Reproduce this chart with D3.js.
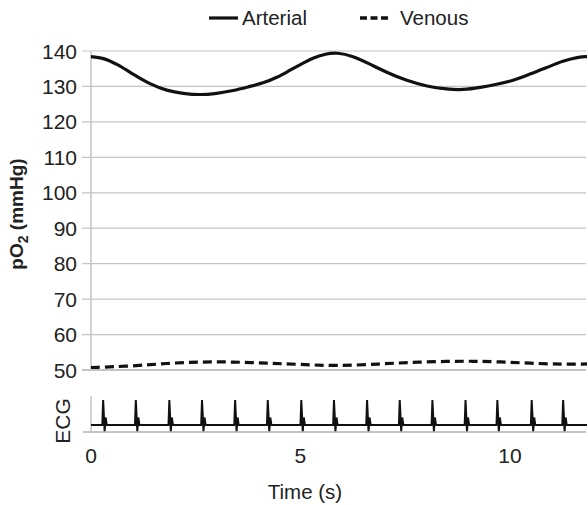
<!DOCTYPE html>
<html><head><meta charset="utf-8">
<script src="https://cdn.jsdelivr.net/npm/d3@7"></script>
<style>body{margin:0;background:#fff}svg{display:block;font-family:"Liberation Sans",Arial,sans-serif}</style>
</head><body><svg id="c" width="588" height="505"></svg>
<script>
// Data
const arterialTime = [0,0.29,0.62,1.0,1.41,1.81,2.2,2.6,3.0,3.39,3.79,4.1,4.44,4.75,5.0,5.3,5.6,5.87,6.25,6.66,7.06,7.54,8.02,8.5,8.88,9.29,9.69,10.07,10.48,10.88,11.26,11.67,11.84];
const arterialPO2  = [138.4,138.1,136.3,133.5,130.6,128.8,128.0,127.6,128.0,128.8,130.0,130.9,132.5,134.6,136.2,138.1,139.2,139.6,138.6,136.3,133.9,131.6,130.0,129.2,129.0,129.7,130.6,131.6,133.5,135.3,137.2,138.4,138.4];
const venousTime = [0,1.0,1.81,2.6,3.39,4.2,4.99,5.87,6.9,7.68,8.5,9.12,9.76,10.48,11.26,11.84];
const venousPO2  = [50.7,51.1,51.9,52.3,52.3,51.9,51.6,51.1,51.7,52.2,52.45,52.5,52.3,51.9,51.6,51.7];
const ecgBeatTimes = [0.29,1.07,1.87,2.65,3.44,4.22,5.02,5.80,6.59,7.37,8.15,8.94,9.70,10.52,11.27];
const beatOffsets = [-0.02,0,0.035,0.06,0.085,0.11];
const beatAmps    = [0,1,-0.25,0.3,0,0];
const yTicks = [50,60,70,80,90,100,110,120,130,140];
const xTicks = [0,5,10];
const legendLabels = ["Arterial","Venous"];

const svg = d3.select("#c");
const x = d3.scaleLinear().domain([0,11.84]).range([91,587]);
const y = d3.scaleLinear().domain([50,140]).range([370,51]);
const ye = d3.scaleLinear().domain([0,1]).range([425,400]);
const grid = "#c4c4c4", txt = "#222";

// gridlines
svg.append("g").selectAll("line").data(yTicks).join("line")
  .attr("x1",82).attr("x2",586).attr("y1",d=>y(d)).attr("y2",d=>y(d))
  .attr("stroke",grid).attr("stroke-width",d=>d===50?2.2:1.2);
// y axis line
svg.append("line").attr("x1",91).attr("x2",91).attr("y1",y(140)).attr("y2",y(50)).attr("stroke",grid).attr("stroke-width",1.5);
// y tick labels
svg.append("g").selectAll("text").data(yTicks).join("text")
  .attr("x",77).attr("y",d=>y(d)).attr("dy","0.36em").attr("text-anchor","end")
  .attr("font-size",21).attr("fill",txt).text(d=>d);

// y title
const yt = svg.append("text").attr("transform","translate(23,214) rotate(-90)")
  .attr("text-anchor","middle").attr("font-size",19).attr("font-weight","bold").attr("fill",txt);
yt.append("tspan").text("pO");
yt.append("tspan").attr("font-size",14).attr("dy",5).text("2");
yt.append("tspan").attr("dy",-5).text(" (mmHg)");

// lines
const line = d3.line().curve(d3.curveBasis);
svg.append("path").attr("d",line(arterialTime.map((t,i)=>[x(t),y(arterialPO2[i])])))
  .attr("fill","none").attr("stroke","#111").attr("stroke-width",3.2);
svg.append("path").attr("d",line(venousTime.map((t,i)=>[x(t),y(venousPO2[i])])))
  .attr("fill","none").attr("stroke","#111").attr("stroke-width",3.2).attr("stroke-dasharray","9,5");

// ECG panel
svg.append("line").attr("x1",91).attr("x2",91).attr("y1",396).attr("y2",433).attr("stroke",grid).attr("stroke-width",1.5);
svg.append("line").attr("x1",83).attr("x2",586).attr("y1",432).attr("y2",432).attr("stroke",grid).attr("stroke-width",2);
const ecgPts = [[x(0),ye(0)]];
ecgBeatTimes.forEach(bt=>{ beatOffsets.forEach((o,i)=>ecgPts.push([x(bt+o),ye(beatAmps[i])])); });
ecgPts.push([x(11.84),ye(0)]);
svg.append("path").attr("d",d3.line()(ecgPts)).attr("fill","none").attr("stroke","#111").attr("stroke-width",2);
svg.append("text").attr("transform","translate(70,421) rotate(-90)").attr("text-anchor","middle")
  .attr("font-size",21).attr("fill",txt).text("ECG");

// x axis labels
svg.append("g").selectAll("text").data(xTicks).join("text")
  .attr("x",d=>x(d)).attr("y",463).attr("text-anchor","middle").attr("font-size",21).attr("fill",txt).text(d=>d);
svg.append("text").attr("x",305).attr("y",499).attr("text-anchor","middle").attr("font-size",20.5).attr("fill",txt).text("Time (s)");

// legend
svg.append("line").attr("x1",209).attr("x2",238).attr("y1",18).attr("y2",18).attr("stroke","#111").attr("stroke-width",3.2);
svg.append("text").attr("x",242).attr("y",25).attr("font-size",20.5).attr("fill",txt).text(legendLabels[0]);
svg.append("line").attr("x1",360).attr("x2",388).attr("y1",18).attr("y2",18).attr("stroke","#111").attr("stroke-width",3.5).attr("stroke-dasharray","7,3.5");
svg.append("text").attr("x",400).attr("y",25).attr("font-size",20.5).attr("fill",txt).text(legendLabels[1]);
</script></body></html>
